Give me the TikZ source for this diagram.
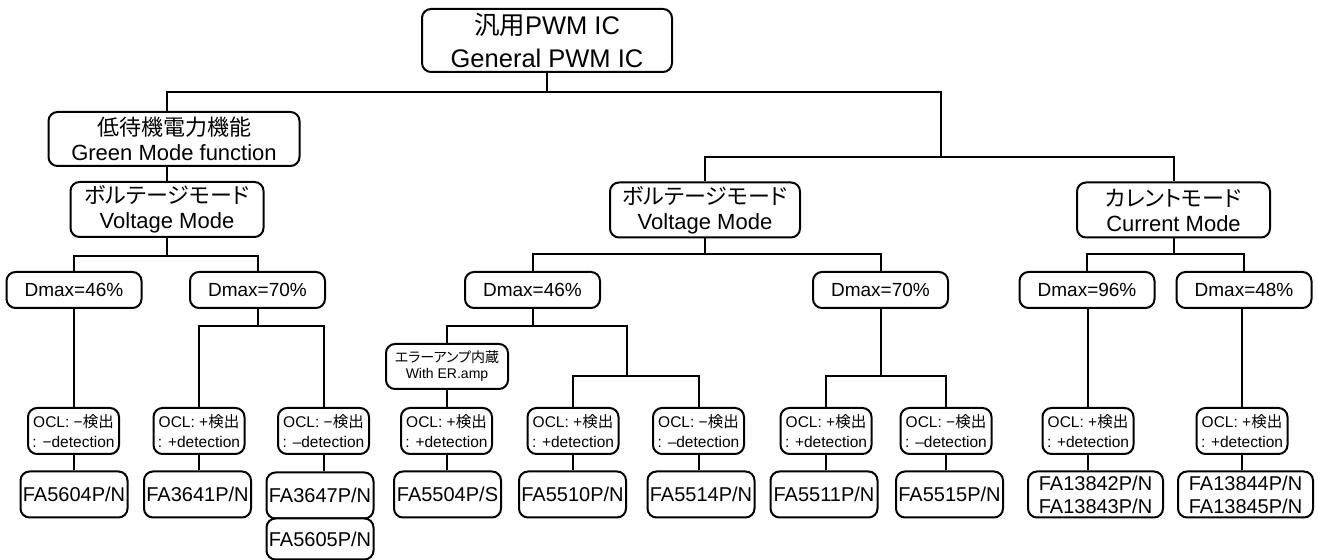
\documentclass[tikz,border=0pt]{standalone}
\usepackage{fontspec}
\setmainfont{Liberation Sans}
\newfontfamily\jp[RawFeature=+palt]{Noto Sans CJK JP}
\usepackage{tikz}
\usetikzlibrary{positioning,calc}
\definecolor{inkblack}{RGB}{0,0,0}
\tikzset{
  base/.style={align=center, inner sep=0pt, text=inkblack},
  box/.style={base, rectangle, rounded corners=4.5pt, draw=inkblack, fill=white, line width=1pt},
  topbox/.style={box, minimum width=125pt, minimum height=31.5pt, font=\fontsize{12.75}{16.5}\selectfont},
  modebox/.style={box, minimum width=96.5pt, minimum height=27.5pt, font=\fontsize{11}{12.5}\selectfont},
  dbox/.style={box, minimum width=67.5pt, minimum height=18pt, font=\fontsize{9.5}{11.5}\selectfont},
  erbox/.style={box, minimum width=61pt, minimum height=22.5pt, font=\fontsize{7}{8}\selectfont},
  oclbox/.style={box, minimum width=45.5pt, minimum height=23pt, font=\fontsize{7.75}{9.75}\selectfont},
  partbox/.style={box, minimum width=53.5pt, minimum height=23pt, font=\fontsize{10}{11.5}\selectfont},
  link/.style={line width=1pt, draw=inkblack},
}
\newcommand{\ocltext}[2]{OCL: #1{\jp 検出}\\: #2detection}

\begin{document}
\begin{tikzpicture}[x=0.5pt,y=-0.5pt]
  \fill[white] (0,0) rectangle (1318,560);
  \useasboundingbox (0,0) rectangle (1318,560);
  % top and mode boxes
  \node[topbox] (root) at (547,40.5) {{\jp 汎用}PWM IC\\General PWM IC};
  \node[modebox, minimum width=125.5pt, minimum height=27pt] (green) at (174,139) {{\jp 低待機電力機能}\\Green Mode function};
  \node[modebox] (vmL) at (167,209.5) {{\jp ボルテージモード}\\Voltage Mode};
  \node[modebox, minimum width=95pt] (vmM) at (705,210) {{\jp ボルテージモード}\\Voltage Mode};
  \node[modebox] (cm) at (1173.5,210) {{\jp カレントモード}\\Current Mode};
  % duty limits
  \node[dbox] (dL46) at (74,290) {Dmax=46\%};
  \node[dbox] (dL70) at (257.5,290) {Dmax=70\%};
  \node[dbox] (dM46) at (532.5,290) {Dmax=46\%};
  \node[dbox] (dM70) at (880.5,290) {Dmax=70\%};
  \node[dbox] (dC96) at (1087,290) {Dmax=96\%};
  \node[dbox] (dC48) at (1244,290) {Dmax=48\%};
  \node[erbox] (er) at (447,366.5) {{\jp エラーアンプ内蔵}\\With ER.amp};
  % OCL detection
  \node[oclbox] (oA) at (73.5,431) {\ocltext{−}{−}};
  \node[oclbox] (oB) at (199,431) {\ocltext{+}{+}};
  \node[oclbox] (oC) at (323.5,431) {\ocltext{−}{–}};
  \node[oclbox] (oD) at (446.5,431) {\ocltext{+}{+}};
  \node[oclbox] (oE) at (573,431) {\ocltext{+}{+}};
  \node[oclbox] (oF) at (698.5,431) {\ocltext{−}{–}};
  \node[oclbox] (oG) at (826,431) {\ocltext{+}{+}};
  \node[oclbox] (oH) at (946,431) {\ocltext{−}{–}};
  \node[oclbox] (oI) at (1088,431) {\ocltext{+}{+}};
  \node[oclbox] (oJ) at (1242,431) {\ocltext{+}{+}};
  % parts
  \node[partbox] (fA) at (74,494.5) {FA5604P/N};
  \node[partbox] (fB) at (197.5,494.5) {FA3641P/N};
  \node[partbox] (fC) at (320,495.5) {FA3647P/N};
  \node[partbox, minimum height=20.5pt, below=-1pt of fC] (fC2) {FA5605P/N};
  \node[partbox] (fD) at (447.5,494.5) {FA5504P/S};
  \node[partbox] (fE) at (572.5,494.5) {FA5510P/N};
  \node[partbox] (fF) at (701,494.5) {FA5514P/N};
  \node[partbox] (fG) at (824,494.5) {FA5511P/N};
  \node[partbox] (fH) at (949.5,494.5) {FA5515P/N};
  \node[partbox, minimum width=67.5pt] (fI) at (1095.5,494.5) {FA13842P/N\\FA13843P/N};
  \node[partbox, minimum width=67.5pt] (fJ) at (1245.5,494.5) {FA13844P/N\\FA13845P/N};
  % junctions
  \coordinate (b0) at (547,92);
  \coordinate (b1) at (941,157);
  \coordinate (b2) at (167,256);
  \coordinate (b3) at (705,254);
  \coordinate (b4) at (1173.5,254);
  \coordinate (b5) at (257.5,326);
  \coordinate (b6) at (532.5,326);
  \coordinate (b7) at (627,376);
  \coordinate (b8) at (880.5,376);
  % tree lines
  \draw[link] (root.south) -- (b0);
  \draw[link] (green.north -| vmL.north) |- (b0) -| (b1);
  \draw[link] (vmM.north) |- (b1) -| (cm.north);
  \draw[link] (vmL.north) -- (vmL.north |- green.south);
  \draw[link] (vmL.south) -- (b2);
  \draw[link] (dL46.north) |- (b2) -| (dL70.north);
  \draw[link] (vmM.south) -- (b3);
  \draw[link] (dM46.north) |- (b3) -| (dM70.north);
  \draw[link] (cm.south) -- (b4);
  \draw[link] (dC96.north) |- (b4) -| (dC48.north);
  \draw[link] (oA.north) -- (oA.north |- dL46.south);
  \draw[link] (dL70.south) -- (b5);
  \draw[link] (oB.north) |- (b5) -| (oC.north);
  \draw[link] (dM46.south) -- (b6);
  \draw[link] (er.north) |- (b6) -| (b7);
  \draw[link] (oE.north) |- (b7) -| (oF.north);
  \draw[link] (oD.north) -- (oD.north |- er.south);
  \draw[link] (dM70.south) -- (b8);
  \draw[link] (oG.north) |- (b8) -| (oH.north);
  \draw[link] (oI.north) -- (oI.north |- dC96.south);
  \draw[link] (oJ.north) -- (oJ.north |- dC48.south);
  \foreach \o/\f in {oA/fA,oB/fB,oC/fC,oD/fD,oE/fE,oF/fF,oG/fG,oH/fH,oI/fI,oJ/fJ}{
    \draw[link] (\o.south) -- (\o.south |- \f.north);
  }
\end{tikzpicture}
\end{document}
